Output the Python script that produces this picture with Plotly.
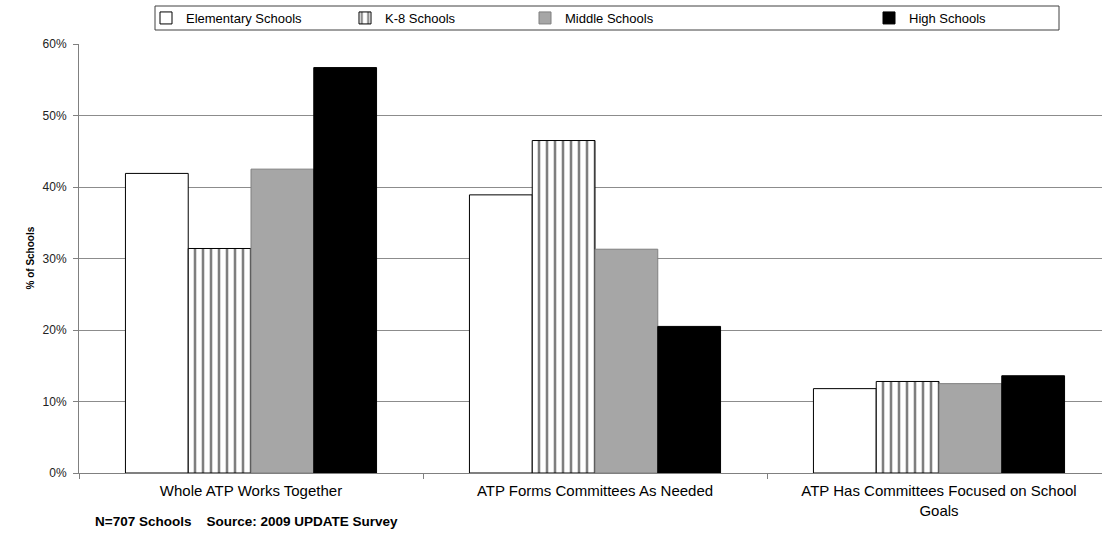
import plotly.graph_objects as go

categories = ["Whole ATP Works Together",
              "ATP Forms Committees As Needed",
              "ATP Has Committees Focused on School<br>Goals"]
series_names = ["Elementary Schools", "K-8 Schools", "Middle Schools", "High Schools"]
elementary = [41.9, 38.9, 11.8]
k8 = [31.4, 46.5, 12.8]
middle = [42.5, 31.3, 12.5]
high = [56.7, 20.5, 13.6]
y_ticks = [0, 10, 20, 30, 40, 50, 60]
y_tick_labels = [f"{v}%" for v in y_ticks]

W, H = 1102, 533
ML, MR, MT, MB = 79, 0, 44, 60
PW = W - ML - MR
PH = H - MT - MB

def px_x(p):
    return (p - ML) / PW

def px_y(p):
    return (H - MB - p) / PH

FONT = "Liberation Sans, Arial, sans-serif"

fig = go.Figure()
fig.add_trace(go.Bar(x=categories, y=elementary, name=series_names[0], legend="legend",
                     marker=dict(color="white", line=dict(color="black", width=1))))
fig.add_trace(go.Bar(x=categories, y=k8, name=series_names[1], legend="legend2",
                     marker=dict(color="white", line=dict(color="black", width=1),
                                 pattern=dict(shape="|", fgcolor="black", bgcolor="white",
                                              size=8, solidity=0.32))))
fig.add_trace(go.Bar(x=categories, y=middle, name=series_names[2], legend="legend3",
                     marker=dict(color="#a6a6a6", line=dict(color="#7f7f7f", width=1))))
fig.add_trace(go.Bar(x=categories, y=high, name=series_names[3], legend="legend4",
                     marker=dict(color="black", line=dict(color="black", width=1))))

leg_common = dict(orientation="h", yanchor="middle", y=px_y(18),
                  xanchor="left", bgcolor="rgba(0,0,0,0)", borderwidth=0,
                  font=dict(family=FONT, size=13, color="black"),
                  itemwidth=30)
fig.update_layout(
    width=W, height=H,
    margin=dict(l=ML, r=MR, t=MT, b=MB),
    paper_bgcolor="white", plot_bgcolor="white",
    barmode="group", bargap=0.27, bargroupgap=0,
    showlegend=True,
    legend=dict(x=px_x(146), **leg_common),
    legend2=dict(x=px_x(345), **leg_common),
    legend3=dict(x=px_x(525), **leg_common),
    legend4=dict(x=px_x(869), **leg_common),
    font=dict(family=FONT, color="black"),
    xaxis=dict(type="category", range=[-0.5, -0.5 + PW / 344.0],
               tickson="boundaries", ticks="outside", ticklen=5, tickcolor="#808080",
               showline=True, linecolor="#808080", linewidth=1,
               showgrid=False, tickfont=dict(size=15, color="black"),
               ticklabelstandoff=4),
    yaxis=dict(range=[0, 60], tickmode="array", tickvals=y_ticks, ticktext=y_tick_labels,
               ticks="outside", ticklen=5, tickcolor="#808080",
               showline=True, linecolor="#808080", linewidth=1,
               showgrid=True, gridcolor="#8c8c8c", gridwidth=1,
               zeroline=False, tickfont=dict(size=12, color="#222222"),
               ticklabelstandoff=4),
)

# legend frame
fig.add_shape(type="rect", xref="paper", yref="paper",
              x0=px_x(155), x1=px_x(1059), y0=px_y(30), y1=px_y(6),
              line=dict(color="#404040", width=1), fillcolor="rgba(0,0,0,0)", layer="below")

fig.add_annotation(text="% of Schools", textangle=-90, xref="paper", yref="paper",
                   x=px_x(30), y=0.5, showarrow=False, xanchor="center", yanchor="middle",
                   font=dict(size=10, color="black", family=FONT, weight="bold"))
fig.add_annotation(text="N=707 Schools\u00a0\u00a0\u00a0\u00a0Source: 2009 UPDATE Survey",
                   xref="paper", yref="paper", x=px_x(93), y=px_y(521),
                   showarrow=False, xanchor="left", yanchor="middle",
                   font=dict(size=13.5, color="black", family=FONT, weight="bold"))

fig.write_html("out.html")
